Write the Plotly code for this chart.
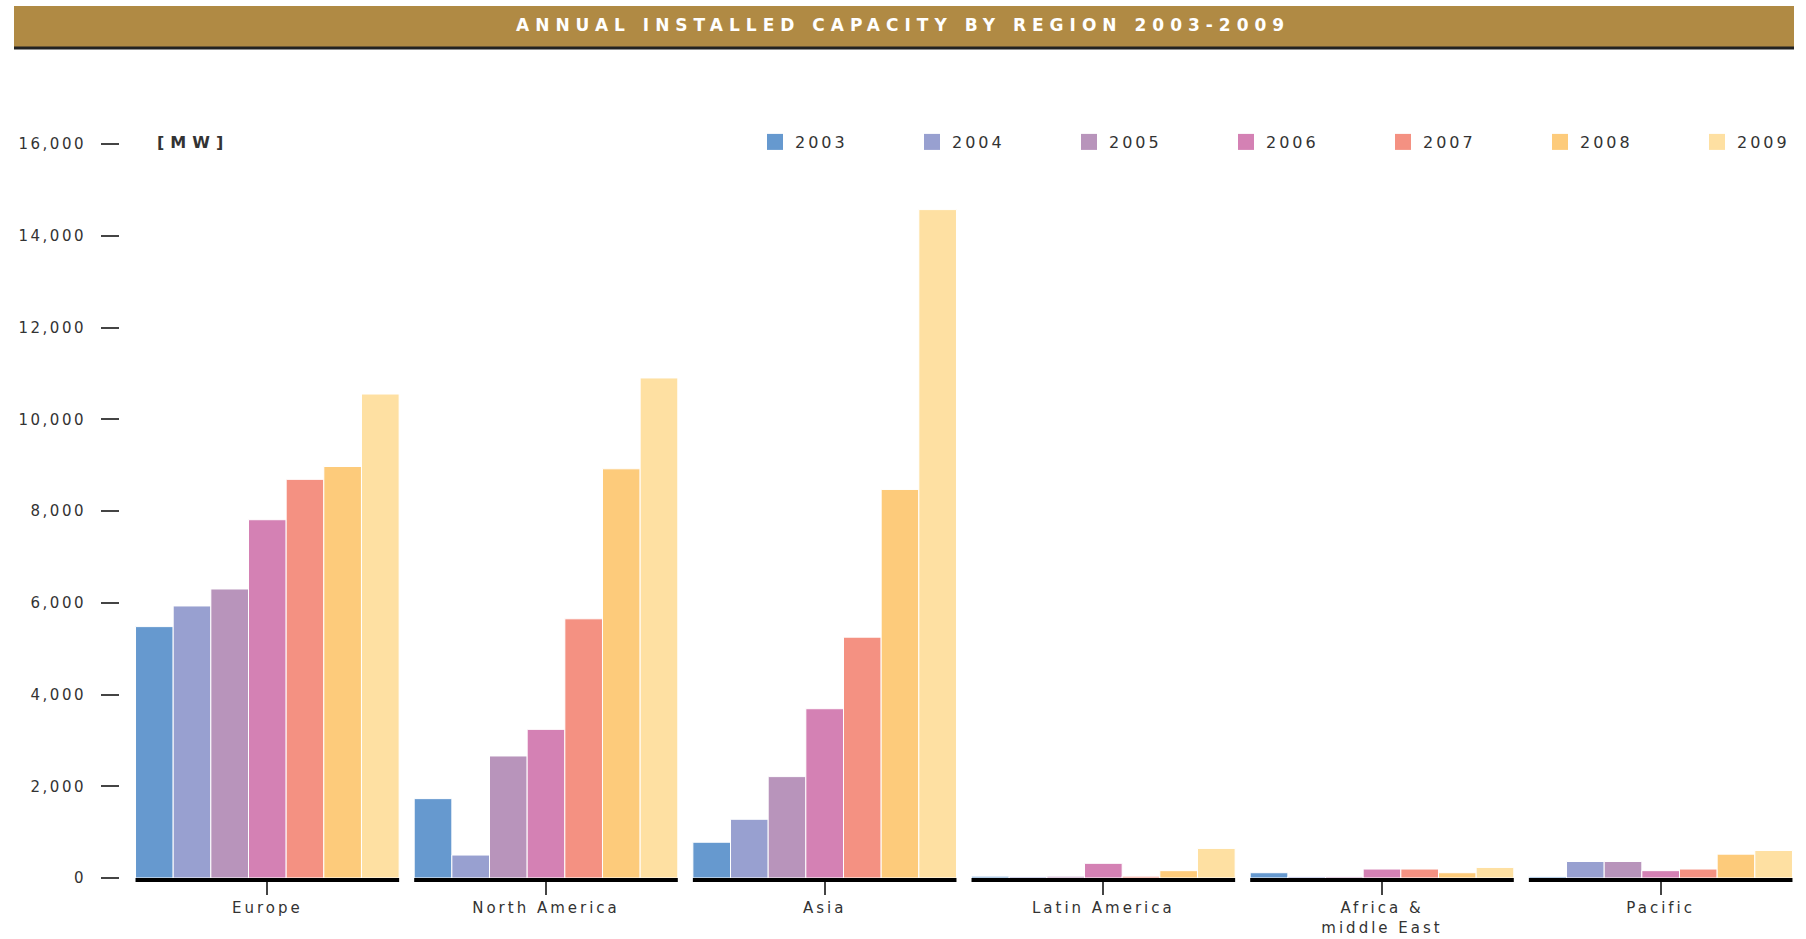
import plotly.graph_objects as go

regions = ["Europe", "North America", "Asia", "Latin America", "Africa &<br>middle East", "Pacific"]
years = ["2003", "2004", "2005", "2006", "2007", "2008", "2009"]
colors = ["#6699CF", "#98A0D0", "#B894BB", "#D481B4", "#F49182", "#FDCB7B", "#FEE0A2"]

v2003 = [5480, 1730, 780, 40, 115, 30]
v2004 = [5930, 500, 1280, 30, 30, 360]
v2005 = [6300, 2660, 2210, 40, 30, 360]
v2006 = [7810, 3240, 3690, 320, 195, 160]
v2007 = [8690, 5650, 5250, 40, 195, 195]
v2008 = [8970, 8920, 8470, 160, 115, 520]
v2009 = [10550, 10900, 14570, 645, 230, 600]
series = [v2003, v2004, v2005, v2006, v2007, v2008, v2009]

y_ticks = [0, 2000, 4000, 6000, 8000, 10000, 12000, 14000, 16000]

W, H = 1806, 939
pl, pr, pt, pb = 119, 6, 144, 61
pw, ph = W - pl - pr, H - pt - pb
def px(xp):
    return (xp - pl) / pw
def py(yp):
    return (H - pb - yp) / ph

def spaced(t, s):
    return '<span style="letter-spacing:%spx">%s</span>' % (s, t)

font_family = "'DejaVu Sans', sans-serif"

fig = go.Figure()
for yr, col, vals in zip(years, colors, series):
    fig.add_trace(go.Bar(x=list(range(len(regions))), y=vals, name=yr, showlegend=False,
                         marker=dict(color=col, line=dict(color="white", width=1))))
# legend entries (square swatches)
for k, (yr, col) in enumerate(zip(years, colors)):
    fig.add_trace(go.Scatter(x=[None], y=[None], mode="markers", name=spaced(yr, 3),
                             legend="legend2" if k == len(years) - 1 else "legend",
                             marker=dict(symbol="square", size=16, color=col)))

shapes = []
shapes.append(dict(type="rect", xref="paper", yref="paper", x0=px(14), x1=px(1794), y0=py(48), y1=py(6),
                   fillcolor="#B08A44", line=dict(width=0), layer="below"))
shapes.append(dict(type="line", xref="paper", yref="paper", x0=px(14), x1=px(1794), y0=py(48), y1=py(48),
                   line=dict(color="#222", width=3)))
for i in range(len(regions)):
    shapes.append(dict(type="rect", xref="x", yref="paper", x0=i - 0.473, x1=i + 0.473,
                       y0=-4.0 / ph, y1=0,
                       fillcolor="black", line=dict(width=0), layer="above"))

legend_common = dict(orientation="h", y=py(142), yanchor="middle", xanchor="left",
                     entrywidth=112, entrywidthmode="pixels", font=dict(size=16, color="#333"),
                     traceorder="normal", itemwidth=30, itemsizing="trace", bgcolor="rgba(0,0,0,0)")

fig.update_layout(
    width=W, height=H,
    margin=dict(l=pl, r=pr, t=pt, b=pb),
    paper_bgcolor="white", plot_bgcolor="white",
    barmode="group", bargap=0.054, bargroupgap=0,
    font=dict(family=font_family, color="#333333", size=14),
    showlegend=True,
    legend=dict(x=px(755), **legend_common),
    legend2=dict(x=px(1697), **{**legend_common, "entrywidth": 50}),
    xaxis=dict(domain=[px(128), 1], range=[-0.5, len(regions) - 0.5], automargin=False,
               tickvals=list(range(len(regions))), ticktext=[spaced(r, 3) for r in regions],
               showgrid=False, showline=False, zeroline=False, ticks="outside", ticklen=16,
               tickwidth=2, tickcolor="#444", tickfont=dict(size=15, color="#333")),
    yaxis=dict(range=[0, 16000], tickvals=y_ticks, ticktext=[spaced(f"{v:,}", 2.5) for v in y_ticks],
               showgrid=False, zeroline=False, showline=False, automargin=False,
               ticks="outside", ticklen=18, tickwidth=2, tickcolor="#444",
               tickfont=dict(size=15, color="#333"), anchor="free", position=0.0,
               ticklabelstandoff=12),
    shapes=shapes,
)

fig.add_annotation(xref="paper", yref="paper", x=px(903), y=py(25), xanchor="center", yanchor="middle",
                   text=spaced("<b>ANNUAL INSTALLED CAPACITY BY REGION 2003-2009</b>", 6),
                   showarrow=False, font=dict(size=17, color="white", family=font_family))
fig.add_annotation(xref="paper", yref="paper", x=px(155), y=py(142), xanchor="left", yanchor="middle",
                   text=spaced("<b>[MW]</b>", 6), showarrow=False,
                   font=dict(size=16, color="#333"))

fig.write_html("out.html")
